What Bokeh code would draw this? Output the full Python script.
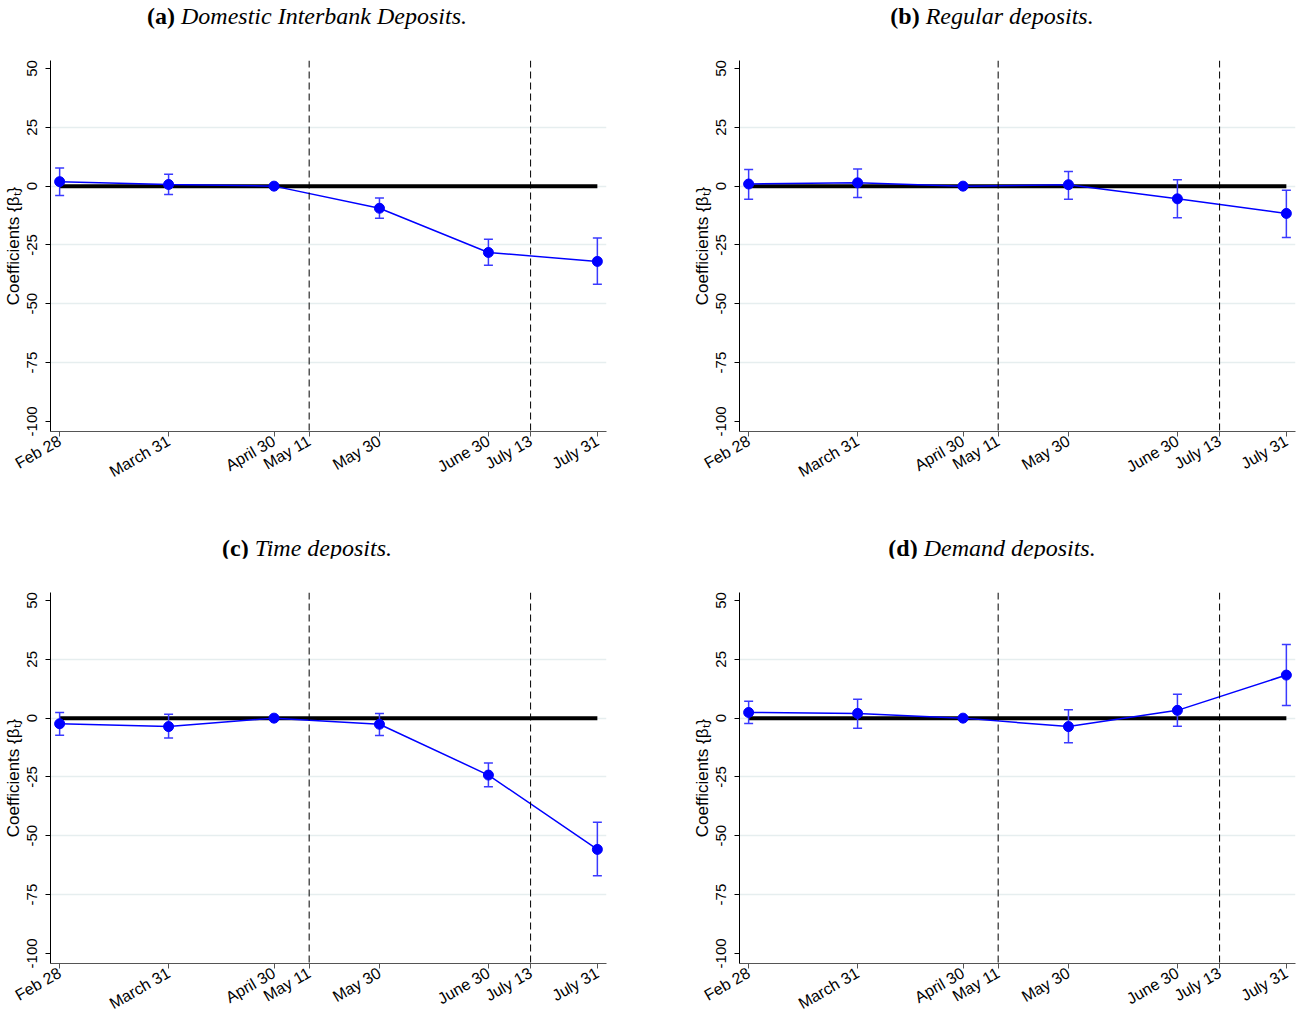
import math

from bokeh.embed import file_html
from bokeh.layouts import column, row
from bokeh.models import ColumnDataSource, Div, FixedTicker, Span
from bokeh.plotting import figure
from bokeh.resources import INLINE

# Calendar axis: days counted from Feb 28
tick_labels = ["Feb 28", "March 31", "April 30", "May 11", "May 30", "June 30", "July 13", "July 31"]
tick_days = [0, 31, 61, 71, 91, 122, 134, 153]
event_days = [71, 134]  # May 11 and July 13

obs_days = [0, 31, 61, 91, 122, 153]

# (a) Domestic interbank deposits
interbank_coef = [1.9, 0.7, 0.0, -9.4, -28.2, -32.0]
interbank_lo = [-4.0, -3.6, 0.0, -13.7, -33.6, -41.7]
interbank_hi = [7.7, 5.1, 0.0, -5.0, -22.6, -22.0]

# (b) Regular deposits
regular_coef = [0.9, 1.4, 0.0, 0.6, -5.4, -11.6]
regular_lo = [-5.6, -4.8, 0.0, -5.6, -13.4, -21.8]
regular_hi = [7.1, 7.3, 0.0, 6.2, 2.7, -1.7]

# (c) Time deposits
time_coef = [-2.4, -3.6, 0.0, -2.6, -24.2, -55.8]
time_lo = [-7.3, -8.5, 0.0, -7.4, -29.2, -67.0]
time_hi = [2.4, 1.6, 0.0, 2.0, -19.1, -44.3]

# (d) Demand deposits
demand_coef = [2.4, 2.0, 0.0, -3.6, 3.3, 18.3]
demand_lo = [-2.3, -4.3, 0.0, -10.5, -3.4, 5.4]
demand_hi = [7.2, 8.0, 0.0, 3.6, 10.2, 31.3]

y_ticks = [50, 25, 0, -25, -50, -75, -100]
grid_ticks = [25, 0, -25, -50, -75]

BLUE = "#0000ff"
CI_BLUE = "#3a3aff"
SANS = "Liberation Sans"
SERIF = "Liberation Serif"


def make_caption(tag, name, pad_top, pad_left, pad_right):
    html = (
        f'<div style="width:{648 - pad_left - pad_right}px; margin-left:{pad_left}px; '
        f'padding-top:{pad_top}px; text-align:center; font-family:\'{SERIF}\'; '
        f'font-size:24px; line-height:24px; color:black; white-space:nowrap;">'
        f'<b>{tag}</b> <i>{name}</i></div>'
    )
    return Div(text=html, width=648, height=40, margin=(0, 0, 0, 0))


def make_panel(coef, lo, hi, left_border, right_border, top_border, bottom_border):
    p = figure(width=648, height=478, output_backend="svg", toolbar_location=None,
               x_range=(-2.6, 155.6), y_range=(-104.3, 53.4),
               min_border_left=left_border, min_border_right=right_border,
               min_border_top=top_border, min_border_bottom=bottom_border)
    p.outline_line_color = None
    p.background_fill_color = "white"
    p.border_fill_color = "white"

    # grid
    p.xgrid.visible = False
    p.ygrid.ticker = FixedTicker(ticks=grid_ticks)
    p.ygrid.grid_line_color = "#e6eeef"
    p.ygrid.grid_line_width = 1.5

    # x axis
    xa = p.xaxis[0]
    xa.ticker = FixedTicker(ticks=tick_days)
    xa.major_label_overrides = dict(zip(tick_days, tick_labels))
    xa.major_label_orientation = math.pi / 6
    xa.minor_tick_line_color = None
    xa.major_tick_out = 5
    xa.major_tick_in = 0
    xa.axis_line_color = "#555555"
    xa.major_tick_line_color = "#555555"
    xa.major_label_text_font = SANS
    xa.major_label_text_font_size = "16px"
    xa.major_label_text_color = "black"
    xa.major_label_standoff = 3

    # y axis
    ya = p.yaxis[0]
    ya.ticker = FixedTicker(ticks=y_ticks)
    ya.major_label_overrides = {v: str(v) for v in y_ticks}
    ya.major_label_orientation = "parallel"
    ya.minor_tick_line_color = None
    ya.major_tick_out = 5
    ya.major_tick_in = 0
    ya.axis_line_color = "black"
    ya.major_tick_line_color = "black"
    ya.major_label_text_font = SANS
    ya.major_label_text_font_size = "15px"
    ya.major_label_text_color = "black"
    ya.major_label_standoff = 8
    ya.axis_label = "Coefficients {βₜ}"
    ya.axis_label_text_font = SANS
    ya.axis_label_text_font_style = "normal"
    ya.axis_label_text_font_size = "17px"
    ya.axis_label_text_color = "black"
    ya.axis_label_standoff = 2

    # zero reference line over the observation window
    p.line(x=[obs_days[0], obs_days[-1]], y=[0, 0], line_color="black", line_width=4)

    # event dates
    for d in event_days:
        p.add_layout(Span(location=d, dimension="height", line_color="black",
                          line_width=1, line_dash="7 4"))

    src = ColumnDataSource(dict(x=obs_days, coef=coef, lo=lo, hi=hi))
    keep = [i for i in range(len(obs_days)) if hi[i] != lo[i]]
    ci = ColumnDataSource(dict(
        x=[obs_days[i] for i in keep],
        lo=[lo[i] for i in keep],
        hi=[hi[i] for i in keep],
    ))

    p.line("x", "coef", source=src, line_color=BLUE, line_width=1.5)
    p.segment(x0="x", y0="lo", x1="x", y1="hi", source=ci, line_color=CI_BLUE, line_width=1.5)
    p.scatter("x", "lo", source=ci, marker="dash", size=9, line_color=CI_BLUE, line_width=1.5)
    p.scatter("x", "hi", source=ci, marker="dash", size=9, line_color=CI_BLUE, line_width=1.5)
    p.scatter("x", "coef", source=src, marker="circle", size=10, fill_color=BLUE, line_color=BLUE)
    return p


cap_a = make_caption("(a)", "Domestic Interbank Deposits.", 4, 0, 34)
cap_b = make_caption("(b)", "Regular deposits.", 4, 40, 0)
cap_c = make_caption("(c)", "Time deposits.", 18, 0, 34)
cap_d = make_caption("(d)", "Demand deposits.", 18, 40, 0)

pa = make_panel(interbank_coef, interbank_lo, interbank_hi, 50, 42, 20, 87)
pb = make_panel(regular_coef, regular_lo, regular_hi, 91, 1, 20, 87)
pc = make_panel(time_coef, time_lo, time_hi, 50, 42, 34, 73)
pd = make_panel(demand_coef, demand_lo, demand_hi, 91, 1, 34, 73)

layout = column(
    row(column(cap_a, pa), column(cap_b, pb)),
    row(column(cap_c, pc), column(cap_d, pd)),
)

with open("out.html", "w") as f:
    f.write(file_html(layout, INLINE))
